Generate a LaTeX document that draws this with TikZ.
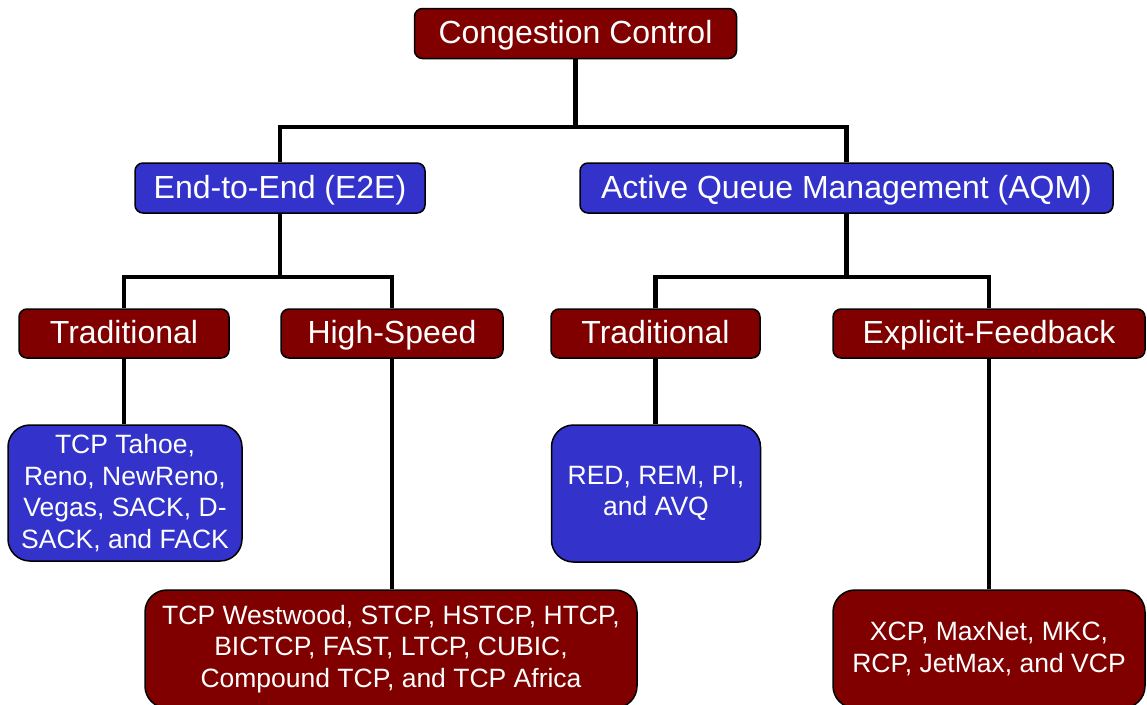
\documentclass[tikz,border=0pt]{standalone}
\usepackage{fontspec}
\setmainfont{Liberation Sans}
\definecolor{boxred}{HTML}{800000}
\definecolor{boxblue}{HTML}{3333CC}
\begin{document}
\begin{tikzpicture}[x=1pt,y=-1pt,
  box/.style={draw=black, line width=1.5pt, rounded corners=8pt, text=white,
              inner sep=0pt, align=center},
  head/.style={box, font=\fontsize{32}{38}\selectfont, minimum height=50pt,
               text height=26pt, text depth=6pt},
  leaf/.style={box, rounded corners=22pt, font=\fontsize{26.5}{31.5}\selectfont},
  redbox/.style={fill=boxred},
  bluebox/.style={fill=boxblue},
  link/.style={line width=4.5pt, line join=miter}]
\clip (0,0) rectangle (1147,704);
\useasboundingbox (0,0) rectangle (1147,704);

% root
\node[head,redbox,minimum width=322pt] (cc) at (575.5,33.5) {Congestion Control};

% first level
\node[head,bluebox,minimum width=290pt] (e2e) at (280,188) {End-to-End (E2E)};
\node[head,bluebox,minimum width=533pt] (aqm) at (846.5,188) {Active Queue Management (AQM)};

% second level
\node[head,redbox,minimum width=210pt,minimum height=49pt] (tradL) at (124,333.5) {Traditional};
\node[head,redbox,minimum width=222pt,minimum height=49pt] (hs) at (392,333.5) {High-Speed};
\node[head,redbox,minimum width=209pt,minimum height=49pt] (tradR) at (655.5,333.5) {Traditional};
\node[head,redbox,minimum width=312pt,minimum height=49pt] (ef) at (989,333.5) {Explicit-Feedback};

% leaves
\node[leaf,bluebox,minimum width=234pt,minimum height=136pt] (tahoe) at (125,493)
  {TCP Tahoe,\\Reno, NewReno,\\Vegas, SACK, D-\\SACK, and FACK};
\node[leaf,bluebox,minimum width=209pt,minimum height=137pt] (red) at (656,493.5)
  {RED, REM, PI,\\and AVQ};
\node[leaf,redbox,minimum width=492pt,minimum height=118pt] (west) at (391,649)
  {TCP Westwood, STCP, HSTCP, HTCP,\\BICTCP, FAST, LTCP, CUBIC,\\Compound TCP, and TCP Africa};
\node[leaf,redbox,minimum width=312pt,minimum height=118pt] (xcp) at (989,649)
  {XCP, MaxNet, MKC,\\RCP, JetMax, and VCP};

% branching points
\coordinate (j0) at (575.5,127);
\coordinate (j1) at (280,277);
\coordinate (j2) at (846.5,277);

% connectors
\draw[link] (cc.south) -- (j0);
\draw[link] (e2e.north) |- (j0) -| (aqm.north);
\draw[link] (e2e.south) -- (j1);
\draw[link] (tradL.north) |- (j1) -| (hs.north);
\draw[link] (aqm.south) -- (j2);
\draw[link] (tradR.north) |- (j2) -| (ef.north);
\draw[link] (tradL.south) -- (tradL.south |- tahoe.north);
\draw[link] (hs.south) -- (hs.south |- west.north);
\draw[link] (tradR.south) -- (tradR.south |- red.north);
\draw[link] (ef.south) -- (ef.south |- xcp.north);
\end{tikzpicture}
\end{document}
